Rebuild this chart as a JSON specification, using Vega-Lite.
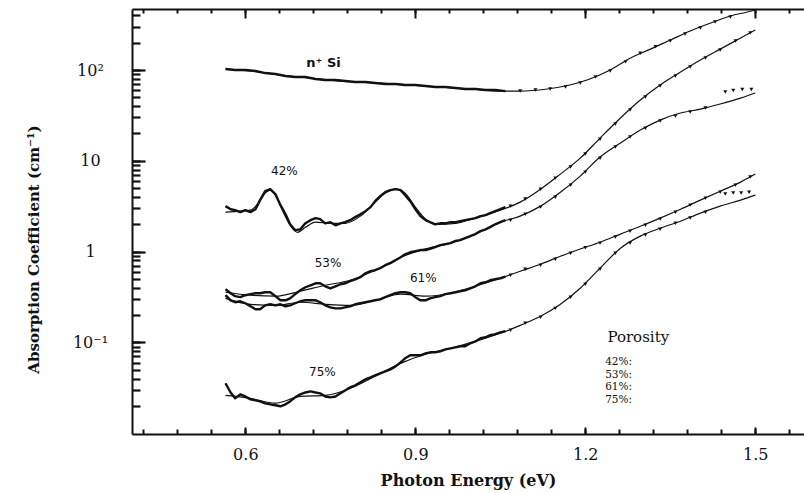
{
  "$schema": "https://vega.github.io/schema/vega-lite/v6.json",
  "width": 672,
  "height": 425,
  "autosize": {"type": "none"},
  "padding": {"left": 132, "top": 9, "right": 0, "bottom": 59},
  "background": "white",
  "view": {"stroke": null},
  "config": {
    "view": {"stroke": null},
    "axis": {"grid": false, "domainColor": "#111", "tickColor": "#111", "labelColor": "#111", "titleColor": "#111", "gridColor": "#111", "labelFont": "DejaVu Serif", "titleFont": "DejaVu Serif", "labelOverlap": false}
  },
  "datasets": {
    "measured": [
      {"sample":"n⁺ Si","eV":0.565,"alpha":102.5},{"sample":"n⁺ Si","eV":0.582,"alpha":100},{"sample":"n⁺ Si","eV":0.600,"alpha":100},{"sample":"n⁺ Si","eV":0.618,"alpha":97.5},{"sample":"n⁺ Si","eV":0.635,"alpha":92.6},{"sample":"n⁺ Si","eV":0.653,"alpha":90.3},{"sample":"n⁺ Si","eV":0.671,"alpha":85.9},{"sample":"n⁺ Si","eV":0.688,"alpha":83.8},{"sample":"n⁺ Si","eV":0.706,"alpha":83.8},{"sample":"n⁺ Si","eV":0.724,"alpha":79.6},{"sample":"n⁺ Si","eV":0.741,"alpha":77.6},{"sample":"n⁺ Si","eV":0.759,"alpha":77.6},{"sample":"n⁺ Si","eV":0.776,"alpha":75.6},{"sample":"n⁺ Si","eV":0.794,"alpha":73.7},{"sample":"n⁺ Si","eV":0.812,"alpha":73.7},{"sample":"n⁺ Si","eV":0.829,"alpha":71.9},{"sample":"n⁺ Si","eV":0.847,"alpha":70.1},{"sample":"n⁺ Si","eV":0.865,"alpha":70.1},{"sample":"n⁺ Si","eV":0.882,"alpha":68.4},{"sample":"n⁺ Si","eV":0.900,"alpha":68.4},{"sample":"n⁺ Si","eV":0.918,"alpha":66.7},{"sample":"n⁺ Si","eV":0.935,"alpha":65.0},{"sample":"n⁺ Si","eV":0.953,"alpha":65.0},{"sample":"n⁺ Si","eV":0.971,"alpha":63.4},{"sample":"n⁺ Si","eV":0.988,"alpha":61.8},{"sample":"n⁺ Si","eV":1.006,"alpha":61.8},{"sample":"n⁺ Si","eV":1.024,"alpha":60.2},{"sample":"n⁺ Si","eV":1.041,"alpha":60.2},{"sample":"n⁺ Si","eV":1.059,"alpha":58.6},
      {"sample":"n⁺ Si","eV":1.085,"alpha":58.6},{"sample":"n⁺ Si","eV":1.112,"alpha":60.2},{"sample":"n⁺ Si","eV":1.138,"alpha":61.8},{"sample":"n⁺ Si","eV":1.165,"alpha":65.0},{"sample":"n⁺ Si","eV":1.191,"alpha":71.9},{"sample":"n⁺ Si","eV":1.218,"alpha":83.8},{"sample":"n⁺ Si","eV":1.244,"alpha":97.5},{"sample":"n⁺ Si","eV":1.271,"alpha":123},{"sample":"n⁺ Si","eV":1.297,"alpha":153},{"sample":"n⁺ Si","eV":1.324,"alpha":180},{"sample":"n⁺ Si","eV":1.350,"alpha":209},{"sample":"n⁺ Si","eV":1.376,"alpha":249},{"sample":"n⁺ Si","eV":1.403,"alpha":290},{"sample":"n⁺ Si","eV":1.429,"alpha":338},{"sample":"n⁺ Si","eV":1.456,"alpha":384},

      {"sample":"42%","eV":0.565,"alpha":3.17},{"sample":"42%","eV":0.574,"alpha":2.93},{"sample":"42%","eV":0.582,"alpha":2.86},{"sample":"42%","eV":0.591,"alpha":2.72},{"sample":"42%","eV":0.600,"alpha":2.86},{"sample":"42%","eV":0.609,"alpha":2.72},{"sample":"42%","eV":0.618,"alpha":2.93},{"sample":"42%","eV":0.626,"alpha":3.69},{"sample":"42%","eV":0.635,"alpha":4.63},{"sample":"42%","eV":0.644,"alpha":4.87},{"sample":"42%","eV":0.653,"alpha":4.30},{"sample":"42%","eV":0.662,"alpha":3.25},{"sample":"42%","eV":0.671,"alpha":2.58},{"sample":"42%","eV":0.679,"alpha":2.00},{"sample":"42%","eV":0.688,"alpha":1.72},{"sample":"42%","eV":0.697,"alpha":1.76},{"sample":"42%","eV":0.706,"alpha":2.05},{"sample":"42%","eV":0.715,"alpha":2.22},{"sample":"42%","eV":0.724,"alpha":2.34},{"sample":"42%","eV":0.732,"alpha":2.28},{"sample":"42%","eV":0.741,"alpha":2.05},{"sample":"42%","eV":0.750,"alpha":2.11},{"sample":"42%","eV":0.759,"alpha":1.95},{"sample":"42%","eV":0.768,"alpha":2.05},{"sample":"42%","eV":0.776,"alpha":2.11},{"sample":"42%","eV":0.785,"alpha":2.22},{"sample":"42%","eV":0.794,"alpha":2.40},{"sample":"42%","eV":0.803,"alpha":2.58},{"sample":"42%","eV":0.812,"alpha":2.79},{"sample":"42%","eV":0.821,"alpha":3.09},{"sample":"42%","eV":0.829,"alpha":3.60},{"sample":"42%","eV":0.838,"alpha":4.08},{"sample":"42%","eV":0.847,"alpha":4.51},{"sample":"42%","eV":0.856,"alpha":4.75},{"sample":"42%","eV":0.865,"alpha":4.87},{"sample":"42%","eV":0.874,"alpha":4.75},{"sample":"42%","eV":0.882,"alpha":4.19},{"sample":"42%","eV":0.891,"alpha":3.60},{"sample":"42%","eV":0.900,"alpha":2.93},{"sample":"42%","eV":0.909,"alpha":2.46},{"sample":"42%","eV":0.918,"alpha":2.22},{"sample":"42%","eV":0.926,"alpha":2.11},{"sample":"42%","eV":0.935,"alpha":2.00},{"sample":"42%","eV":0.944,"alpha":2.05},{"sample":"42%","eV":0.953,"alpha":2.05},{"sample":"42%","eV":0.962,"alpha":2.11},{"sample":"42%","eV":0.971,"alpha":2.11},{"sample":"42%","eV":0.979,"alpha":2.16},{"sample":"42%","eV":0.988,"alpha":2.22},{"sample":"42%","eV":0.997,"alpha":2.28},{"sample":"42%","eV":1.006,"alpha":2.34},{"sample":"42%","eV":1.015,"alpha":2.46},{"sample":"42%","eV":1.024,"alpha":2.52},{"sample":"42%","eV":1.032,"alpha":2.65},{"sample":"42%","eV":1.041,"alpha":2.79},{"sample":"42%","eV":1.050,"alpha":2.93},{"sample":"42%","eV":1.059,"alpha":3.09},
      {"sample":"42%","eV":1.068,"alpha":3.17},{"sample":"42%","eV":1.094,"alpha":3.79},{"sample":"42%","eV":1.121,"alpha":4.87},{"sample":"42%","eV":1.147,"alpha":6.45},{"sample":"42%","eV":1.174,"alpha":8.53},{"sample":"42%","eV":1.200,"alpha":11.9},{"sample":"42%","eV":1.226,"alpha":17.3},{"sample":"42%","eV":1.253,"alpha":25.4},{"sample":"42%","eV":1.279,"alpha":36.2},{"sample":"42%","eV":1.306,"alpha":50.4},{"sample":"42%","eV":1.332,"alpha":66.7},{"sample":"42%","eV":1.359,"alpha":85.9},{"sample":"42%","eV":1.385,"alpha":108},{"sample":"42%","eV":1.412,"alpha":136},{"sample":"42%","eV":1.438,"alpha":166},{"sample":"42%","eV":1.465,"alpha":209},{"sample":"42%","eV":1.491,"alpha":256},

      {"sample":"53%","eV":0.565,"alpha":0.385},{"sample":"53%","eV":0.574,"alpha":0.348},{"sample":"53%","eV":0.582,"alpha":0.323},{"sample":"53%","eV":0.591,"alpha":0.315},{"sample":"53%","eV":0.600,"alpha":0.331},{"sample":"53%","eV":0.609,"alpha":0.340},{"sample":"53%","eV":0.618,"alpha":0.348},{"sample":"53%","eV":0.626,"alpha":0.348},{"sample":"53%","eV":0.635,"alpha":0.357},{"sample":"53%","eV":0.644,"alpha":0.357},{"sample":"53%","eV":0.653,"alpha":0.323},{"sample":"53%","eV":0.662,"alpha":0.291},{"sample":"53%","eV":0.671,"alpha":0.291},{"sample":"53%","eV":0.679,"alpha":0.306},{"sample":"53%","eV":0.688,"alpha":0.340},{"sample":"53%","eV":0.697,"alpha":0.375},{"sample":"53%","eV":0.706,"alpha":0.405},{"sample":"53%","eV":0.715,"alpha":0.426},{"sample":"53%","eV":0.724,"alpha":0.448},{"sample":"53%","eV":0.732,"alpha":0.448},{"sample":"53%","eV":0.741,"alpha":0.415},{"sample":"53%","eV":0.750,"alpha":0.394},{"sample":"53%","eV":0.759,"alpha":0.415},{"sample":"53%","eV":0.768,"alpha":0.437},{"sample":"53%","eV":0.776,"alpha":0.448},{"sample":"53%","eV":0.785,"alpha":0.472},{"sample":"53%","eV":0.794,"alpha":0.496},{"sample":"53%","eV":0.803,"alpha":0.522},{"sample":"53%","eV":0.812,"alpha":0.577},{"sample":"53%","eV":0.821,"alpha":0.608},{"sample":"53%","eV":0.829,"alpha":0.624},{"sample":"53%","eV":0.838,"alpha":0.656},{"sample":"53%","eV":0.847,"alpha":0.708},{"sample":"53%","eV":0.856,"alpha":0.745},{"sample":"53%","eV":0.865,"alpha":0.804},{"sample":"53%","eV":0.874,"alpha":0.867},{"sample":"53%","eV":0.882,"alpha":0.935},{"sample":"53%","eV":0.891,"alpha":0.984},{"sample":"53%","eV":0.900,"alpha":1.01},{"sample":"53%","eV":0.909,"alpha":1.04},{"sample":"53%","eV":0.918,"alpha":1.04},{"sample":"53%","eV":0.926,"alpha":1.07},{"sample":"53%","eV":0.935,"alpha":1.12},{"sample":"53%","eV":0.944,"alpha":1.18},{"sample":"53%","eV":0.953,"alpha":1.21},{"sample":"53%","eV":0.962,"alpha":1.24},{"sample":"53%","eV":0.971,"alpha":1.31},{"sample":"53%","eV":0.979,"alpha":1.34},{"sample":"53%","eV":0.988,"alpha":1.41},{"sample":"53%","eV":0.997,"alpha":1.48},{"sample":"53%","eV":1.006,"alpha":1.56},{"sample":"53%","eV":1.015,"alpha":1.68},{"sample":"53%","eV":1.024,"alpha":1.76},{"sample":"53%","eV":1.032,"alpha":1.86},{"sample":"53%","eV":1.041,"alpha":2.00},{"sample":"53%","eV":1.050,"alpha":2.11},{"sample":"53%","eV":1.059,"alpha":2.22},
      {"sample":"53%","eV":1.068,"alpha":2.22},{"sample":"53%","eV":1.094,"alpha":2.58},{"sample":"53%","eV":1.121,"alpha":3.09},{"sample":"53%","eV":1.147,"alpha":3.98},{"sample":"53%","eV":1.174,"alpha":5.40},{"sample":"53%","eV":1.200,"alpha":7.51},{"sample":"53%","eV":1.226,"alpha":10.7},{"sample":"53%","eV":1.253,"alpha":14.2},{"sample":"53%","eV":1.279,"alpha":18.3},{"sample":"53%","eV":1.306,"alpha":22.9},{"sample":"53%","eV":1.332,"alpha":27.4},{"sample":"53%","eV":1.359,"alpha":31.1},{"sample":"53%","eV":1.385,"alpha":34.4},{"sample":"53%","eV":1.412,"alpha":38.1},{"sample":"53%","eV":1.447,"alpha":57.2},{"sample":"53%","eV":1.461,"alpha":59.4},{"sample":"53%","eV":1.477,"alpha":61.0},{"sample":"53%","eV":1.493,"alpha":61.0},

      {"sample":"61%","eV":0.565,"alpha":0.331},{"sample":"61%","eV":0.574,"alpha":0.291},{"sample":"61%","eV":0.582,"alpha":0.277},{"sample":"61%","eV":0.591,"alpha":0.284},{"sample":"61%","eV":0.600,"alpha":0.270},{"sample":"61%","eV":0.609,"alpha":0.250},{"sample":"61%","eV":0.618,"alpha":0.232},{"sample":"61%","eV":0.626,"alpha":0.232},{"sample":"61%","eV":0.635,"alpha":0.256},{"sample":"61%","eV":0.644,"alpha":0.263},{"sample":"61%","eV":0.653,"alpha":0.256},{"sample":"61%","eV":0.662,"alpha":0.263},{"sample":"61%","eV":0.671,"alpha":0.250},{"sample":"61%","eV":0.679,"alpha":0.256},{"sample":"61%","eV":0.688,"alpha":0.270},{"sample":"61%","eV":0.697,"alpha":0.284},{"sample":"61%","eV":0.706,"alpha":0.291},{"sample":"61%","eV":0.715,"alpha":0.291},{"sample":"61%","eV":0.724,"alpha":0.291},{"sample":"61%","eV":0.732,"alpha":0.277},{"sample":"61%","eV":0.741,"alpha":0.256},{"sample":"61%","eV":0.750,"alpha":0.243},{"sample":"61%","eV":0.759,"alpha":0.237},{"sample":"61%","eV":0.768,"alpha":0.237},{"sample":"61%","eV":0.776,"alpha":0.243},{"sample":"61%","eV":0.785,"alpha":0.250},{"sample":"61%","eV":0.794,"alpha":0.263},{"sample":"61%","eV":0.803,"alpha":0.270},{"sample":"61%","eV":0.812,"alpha":0.277},{"sample":"61%","eV":0.821,"alpha":0.284},{"sample":"61%","eV":0.829,"alpha":0.291},{"sample":"61%","eV":0.838,"alpha":0.298},{"sample":"61%","eV":0.847,"alpha":0.315},{"sample":"61%","eV":0.856,"alpha":0.331},{"sample":"61%","eV":0.865,"alpha":0.348},{"sample":"61%","eV":0.874,"alpha":0.357},{"sample":"61%","eV":0.882,"alpha":0.357},{"sample":"61%","eV":0.891,"alpha":0.348},{"sample":"61%","eV":0.900,"alpha":0.315},{"sample":"61%","eV":0.909,"alpha":0.291},{"sample":"61%","eV":0.918,"alpha":0.291},{"sample":"61%","eV":0.926,"alpha":0.306},{"sample":"61%","eV":0.935,"alpha":0.315},{"sample":"61%","eV":0.944,"alpha":0.323},{"sample":"61%","eV":0.953,"alpha":0.340},{"sample":"61%","eV":0.962,"alpha":0.348},{"sample":"61%","eV":0.971,"alpha":0.357},{"sample":"61%","eV":0.979,"alpha":0.366},{"sample":"61%","eV":0.988,"alpha":0.375},{"sample":"61%","eV":0.997,"alpha":0.394},{"sample":"61%","eV":1.006,"alpha":0.415},{"sample":"61%","eV":1.015,"alpha":0.448},{"sample":"61%","eV":1.024,"alpha":0.460},{"sample":"61%","eV":1.032,"alpha":0.484},{"sample":"61%","eV":1.041,"alpha":0.496},{"sample":"61%","eV":1.050,"alpha":0.509},{"sample":"61%","eV":1.059,"alpha":0.530},
      {"sample":"61%","eV":1.068,"alpha":0.549},{"sample":"61%","eV":1.094,"alpha":0.640},{"sample":"61%","eV":1.121,"alpha":0.708},{"sample":"61%","eV":1.147,"alpha":0.825},{"sample":"61%","eV":1.174,"alpha":0.960},{"sample":"61%","eV":1.200,"alpha":1.10},{"sample":"61%","eV":1.226,"alpha":1.24},{"sample":"61%","eV":1.253,"alpha":1.45},{"sample":"61%","eV":1.279,"alpha":1.68},{"sample":"61%","eV":1.306,"alpha":1.95},{"sample":"61%","eV":1.332,"alpha":2.28},{"sample":"61%","eV":1.359,"alpha":2.72},{"sample":"61%","eV":1.385,"alpha":3.25},{"sample":"61%","eV":1.412,"alpha":3.88},{"sample":"61%","eV":1.438,"alpha":4.51},{"sample":"61%","eV":1.465,"alpha":5.40},{"sample":"61%","eV":1.491,"alpha":6.62},

      {"sample":"75%","eV":0.565,"alpha":0.0355},{"sample":"75%","eV":0.574,"alpha":0.0281},{"sample":"75%","eV":0.582,"alpha":0.0242},{"sample":"75%","eV":0.591,"alpha":0.0268},{"sample":"75%","eV":0.600,"alpha":0.0254},{"sample":"75%","eV":0.609,"alpha":0.0236},{"sample":"75%","eV":0.618,"alpha":0.0230},{"sample":"75%","eV":0.626,"alpha":0.0224},{"sample":"75%","eV":0.635,"alpha":0.0213},{"sample":"75%","eV":0.644,"alpha":0.0208},{"sample":"75%","eV":0.653,"alpha":0.0203},{"sample":"75%","eV":0.662,"alpha":0.0198},{"sample":"75%","eV":0.671,"alpha":0.0208},{"sample":"75%","eV":0.679,"alpha":0.0224},{"sample":"75%","eV":0.688,"alpha":0.0248},{"sample":"75%","eV":0.697,"alpha":0.0268},{"sample":"75%","eV":0.706,"alpha":0.0281},{"sample":"75%","eV":0.715,"alpha":0.0289},{"sample":"75%","eV":0.724,"alpha":0.0281},{"sample":"75%","eV":0.732,"alpha":0.0275},{"sample":"75%","eV":0.741,"alpha":0.0254},{"sample":"75%","eV":0.750,"alpha":0.0248},{"sample":"75%","eV":0.759,"alpha":0.0254},{"sample":"75%","eV":0.768,"alpha":0.0275},{"sample":"75%","eV":0.776,"alpha":0.0296},{"sample":"75%","eV":0.785,"alpha":0.0320},{"sample":"75%","eV":0.794,"alpha":0.0337},{"sample":"75%","eV":0.803,"alpha":0.0363},{"sample":"75%","eV":0.812,"alpha":0.0392},{"sample":"75%","eV":0.821,"alpha":0.0412},{"sample":"75%","eV":0.829,"alpha":0.0434},{"sample":"75%","eV":0.838,"alpha":0.0456},{"sample":"75%","eV":0.847,"alpha":0.0480},{"sample":"75%","eV":0.856,"alpha":0.0505},{"sample":"75%","eV":0.865,"alpha":0.0545},{"sample":"75%","eV":0.874,"alpha":0.0603},{"sample":"75%","eV":0.882,"alpha":0.0668},{"sample":"75%","eV":0.891,"alpha":0.0721},{"sample":"75%","eV":0.900,"alpha":0.0721},{"sample":"75%","eV":0.909,"alpha":0.0721},{"sample":"75%","eV":0.918,"alpha":0.0758},{"sample":"75%","eV":0.926,"alpha":0.0778},{"sample":"75%","eV":0.935,"alpha":0.0778},{"sample":"75%","eV":0.944,"alpha":0.0798},{"sample":"75%","eV":0.953,"alpha":0.0839},{"sample":"75%","eV":0.962,"alpha":0.0861},{"sample":"75%","eV":0.971,"alpha":0.0883},{"sample":"75%","eV":0.979,"alpha":0.0906},{"sample":"75%","eV":0.988,"alpha":0.0906},{"sample":"75%","eV":0.997,"alpha":0.0978},{"sample":"75%","eV":1.006,"alpha":0.1025},{"sample":"75%","eV":1.015,"alpha":0.111},{"sample":"75%","eV":1.024,"alpha":0.114},{"sample":"75%","eV":1.032,"alpha":0.120},{"sample":"75%","eV":1.041,"alpha":0.123},{"sample":"75%","eV":1.050,"alpha":0.129},{"sample":"75%","eV":1.059,"alpha":0.133},
      {"sample":"75%","eV":1.068,"alpha":0.136},{"sample":"75%","eV":1.094,"alpha":0.163},{"sample":"75%","eV":1.121,"alpha":0.189},{"sample":"75%","eV":1.147,"alpha":0.237},{"sample":"75%","eV":1.174,"alpha":0.315},{"sample":"75%","eV":1.200,"alpha":0.437},{"sample":"75%","eV":1.226,"alpha":0.640},{"sample":"75%","eV":1.253,"alpha":0.960},{"sample":"75%","eV":1.279,"alpha":1.24},{"sample":"75%","eV":1.306,"alpha":1.52},{"sample":"75%","eV":1.332,"alpha":1.76},{"sample":"75%","eV":1.359,"alpha":2.05},{"sample":"75%","eV":1.385,"alpha":2.34},{"sample":"75%","eV":1.412,"alpha":2.72},{"sample":"75%","eV":1.447,"alpha":4.30},{"sample":"75%","eV":1.461,"alpha":4.41},{"sample":"75%","eV":1.475,"alpha":4.41},{"sample":"75%","eV":1.489,"alpha":4.51}
    ],
    "fit": [
      {"sample":"n⁺ Si","eV":0.565,"alpha":102.5},{"sample":"n⁺ Si","eV":0.609,"alpha":97.5},{"sample":"n⁺ Si","eV":0.662,"alpha":88.1},{"sample":"n⁺ Si","eV":0.715,"alpha":81.6},{"sample":"n⁺ Si","eV":0.768,"alpha":75.6},{"sample":"n⁺ Si","eV":0.838,"alpha":71.9},{"sample":"n⁺ Si","eV":0.891,"alpha":68.4},{"sample":"n⁺ Si","eV":0.944,"alpha":65.0},{"sample":"n⁺ Si","eV":0.997,"alpha":61.8},{"sample":"n⁺ Si","eV":1.050,"alpha":58.6},{"sample":"n⁺ Si","eV":1.085,"alpha":58.6},{"sample":"n⁺ Si","eV":1.133,"alpha":61.8},{"sample":"n⁺ Si","eV":1.165,"alpha":66.7},{"sample":"n⁺ Si","eV":1.203,"alpha":77.6},{"sample":"n⁺ Si","eV":1.244,"alpha":100},{"sample":"n⁺ Si","eV":1.279,"alpha":135},{"sample":"n⁺ Si","eV":1.315,"alpha":170},{"sample":"n⁺ Si","eV":1.350,"alpha":214},{"sample":"n⁺ Si","eV":1.385,"alpha":269},{"sample":"n⁺ Si","eV":1.426,"alpha":338},{"sample":"n⁺ Si","eV":1.456,"alpha":394},{"sample":"n⁺ Si","eV":1.486,"alpha":436},{"sample":"n⁺ Si","eV":1.500,"alpha":459},

      {"sample":"42%","eV":0.565,"alpha":2.72},{"sample":"42%","eV":0.591,"alpha":2.79},{"sample":"42%","eV":0.609,"alpha":2.86},{"sample":"42%","eV":0.623,"alpha":3.42},{"sample":"42%","eV":0.635,"alpha":4.41},{"sample":"42%","eV":0.644,"alpha":4.75},{"sample":"42%","eV":0.653,"alpha":4.19},{"sample":"42%","eV":0.667,"alpha":2.72},{"sample":"42%","eV":0.679,"alpha":1.95},{"sample":"42%","eV":0.692,"alpha":1.63},{"sample":"42%","eV":0.706,"alpha":1.85},{"sample":"42%","eV":0.724,"alpha":2.11},{"sample":"42%","eV":0.750,"alpha":2.05},{"sample":"42%","eV":0.776,"alpha":2.05},{"sample":"42%","eV":0.803,"alpha":2.46},{"sample":"42%","eV":0.824,"alpha":3.25},{"sample":"42%","eV":0.847,"alpha":4.41},{"sample":"42%","eV":0.865,"alpha":4.87},{"sample":"42%","eV":0.882,"alpha":4.41},{"sample":"42%","eV":0.900,"alpha":3.09},{"sample":"42%","eV":0.918,"alpha":2.28},{"sample":"42%","eV":0.939,"alpha":2.00},{"sample":"42%","eV":0.971,"alpha":2.05},{"sample":"42%","eV":1.006,"alpha":2.34},{"sample":"42%","eV":1.050,"alpha":2.86},{"sample":"42%","eV":1.085,"alpha":3.51},{"sample":"42%","eV":1.121,"alpha":4.87},{"sample":"42%","eV":1.156,"alpha":7.14},{"sample":"42%","eV":1.191,"alpha":10.7},{"sample":"42%","eV":1.226,"alpha":17.8},{"sample":"42%","eV":1.262,"alpha":29.6},{"sample":"42%","eV":1.297,"alpha":46.7},{"sample":"42%","eV":1.332,"alpha":68.4},{"sample":"42%","eV":1.368,"alpha":95.1},{"sample":"42%","eV":1.403,"alpha":129},{"sample":"42%","eV":1.438,"alpha":170},{"sample":"42%","eV":1.474,"alpha":225},{"sample":"42%","eV":1.500,"alpha":276},

      {"sample":"53%","eV":0.565,"alpha":0.357},{"sample":"53%","eV":0.609,"alpha":0.331},{"sample":"53%","eV":0.653,"alpha":0.323},{"sample":"53%","eV":0.697,"alpha":0.366},{"sample":"53%","eV":0.741,"alpha":0.426},{"sample":"53%","eV":0.785,"alpha":0.484},{"sample":"53%","eV":0.829,"alpha":0.624},{"sample":"53%","eV":0.874,"alpha":0.867},{"sample":"53%","eV":0.918,"alpha":1.07},{"sample":"53%","eV":0.962,"alpha":1.24},{"sample":"53%","eV":1.006,"alpha":1.56},{"sample":"53%","eV":1.050,"alpha":2.11},{"sample":"53%","eV":1.085,"alpha":2.46},{"sample":"53%","eV":1.121,"alpha":3.17},{"sample":"53%","eV":1.156,"alpha":4.51},{"sample":"53%","eV":1.191,"alpha":6.79},{"sample":"53%","eV":1.226,"alpha":11.0},{"sample":"53%","eV":1.262,"alpha":15.7},{"sample":"53%","eV":1.297,"alpha":21.8},{"sample":"53%","eV":1.332,"alpha":28.1},{"sample":"53%","eV":1.368,"alpha":33.6},{"sample":"53%","eV":1.403,"alpha":37.1},{"sample":"53%","eV":1.438,"alpha":42.2},{"sample":"53%","eV":1.474,"alpha":49.1},{"sample":"53%","eV":1.500,"alpha":55.8},

      {"sample":"61%","eV":0.565,"alpha":0.306},{"sample":"61%","eV":0.609,"alpha":0.263},{"sample":"61%","eV":0.653,"alpha":0.256},{"sample":"61%","eV":0.697,"alpha":0.277},{"sample":"61%","eV":0.741,"alpha":0.263},{"sample":"61%","eV":0.785,"alpha":0.256},{"sample":"61%","eV":0.829,"alpha":0.291},{"sample":"61%","eV":0.874,"alpha":0.340},{"sample":"61%","eV":0.918,"alpha":0.323},{"sample":"61%","eV":0.962,"alpha":0.348},{"sample":"61%","eV":1.006,"alpha":0.415},{"sample":"61%","eV":1.050,"alpha":0.509},{"sample":"61%","eV":1.085,"alpha":0.608},{"sample":"61%","eV":1.121,"alpha":0.726},{"sample":"61%","eV":1.156,"alpha":0.889},{"sample":"61%","eV":1.191,"alpha":1.07},{"sample":"61%","eV":1.226,"alpha":1.27},{"sample":"61%","eV":1.262,"alpha":1.56},{"sample":"61%","eV":1.297,"alpha":1.90},{"sample":"61%","eV":1.332,"alpha":2.34},{"sample":"61%","eV":1.368,"alpha":2.93},{"sample":"61%","eV":1.403,"alpha":3.69},{"sample":"61%","eV":1.438,"alpha":4.63},{"sample":"61%","eV":1.474,"alpha":5.83},{"sample":"61%","eV":1.500,"alpha":7.14},

      {"sample":"75%","eV":0.565,"alpha":0.0261},{"sample":"75%","eV":0.609,"alpha":0.0242},{"sample":"75%","eV":0.653,"alpha":0.0214},{"sample":"75%","eV":0.697,"alpha":0.0254},{"sample":"75%","eV":0.741,"alpha":0.0261},{"sample":"75%","eV":0.785,"alpha":0.0311},{"sample":"75%","eV":0.829,"alpha":0.0423},{"sample":"75%","eV":0.874,"alpha":0.0588},{"sample":"75%","eV":0.918,"alpha":0.0740},{"sample":"75%","eV":0.962,"alpha":0.0861},{"sample":"75%","eV":1.006,"alpha":0.1025},{"sample":"75%","eV":1.050,"alpha":0.126},{"sample":"75%","eV":1.085,"alpha":0.154},{"sample":"75%","eV":1.121,"alpha":0.194},{"sample":"75%","eV":1.156,"alpha":0.263},{"sample":"75%","eV":1.191,"alpha":0.395},{"sample":"75%","eV":1.226,"alpha":0.657},{"sample":"75%","eV":1.262,"alpha":1.09},{"sample":"75%","eV":1.297,"alpha":1.48},{"sample":"75%","eV":1.332,"alpha":1.81},{"sample":"75%","eV":1.368,"alpha":2.16},{"sample":"75%","eV":1.403,"alpha":2.65},{"sample":"75%","eV":1.438,"alpha":3.17},{"sample":"75%","eV":1.474,"alpha":3.69},{"sample":"75%","eV":1.500,"alpha":4.19}
    ]
  },
  "layer": [
    {
      "data": {"name": "fit"},
      "mark": {"type": "line", "color": "#111", "strokeWidth": 1.2, "interpolate": "monotone", "clip": true},
      "encoding": {
        "x": {"field": "eV", "type": "quantitative", "scale": {"domain": [0.4, 1.5859], "nice": false, "zero": false},
              "axis": {"orient": "bottom",
                       "values": [0.42, 0.48, 0.54, 0.6, 0.66, 0.72, 0.78, 0.84, 0.9, 0.96, 1.02, 1.08, 1.14, 1.2, 1.26, 1.32, 1.38, 1.44, 1.5, 1.56],
                       "labelExpr": "indexof([0.6, 0.9, 1.2, 1.5], datum.value) >= 0 ? format(datum.value, '.1f') : ''",
                       "tickSize": -5, "tickWidth": 2, "tickColor": "#111",
                       "grid": true, "gridDash": [9, 2000], "gridWidth": 2,
                       "gridOpacity": {"condition": {"test": "indexof([0.6, 0.9, 1.2, 1.5], datum.value) >= 0", "value": 1}, "value": 0},
                       "domainWidth": 2, "labelPadding": 17, "labelFontSize": 16, "labelFlush": false,
                       "title": "Photon Energy (eV)", "titleFontSize": 16, "titleFontWeight": "bold", "titleY": 38, "titleBaseline": "top"}},
        "y": {"field": "alpha", "type": "quantitative", "scale": {"type": "log", "domain": [0.0098, 470], "nice": false},
              "axis": {"orient": "left",
                       "values": [0.02, 0.03, 0.04, 0.05, 0.06, 0.07, 0.08, 0.09, 0.1, 0.2, 0.3, 0.4, 0.5, 0.6, 0.7, 0.8, 0.9, 1, 2, 3, 4, 5, 6, 7, 8, 9, 10, 20, 30, 40, 50, 60, 70, 80, 90, 100, 200, 300, 400],
                       "labelExpr": "datum.value == 100 ? '10²' : datum.value == 10 ? '10' : datum.value == 1 ? '1' : datum.value == 0.1 ? '10⁻¹' : ''",
                       "tickSize": -8, "tickWidth": 2.2, "tickColor": "#111",
                       "grid": true, "gridDash": [13, 2000], "gridWidth": 2.2,
                       "gridOpacity": {"condition": {"test": "indexof([0.1, 1, 10, 100], datum.value) >= 0", "value": 1}, "value": 0},
                       "domainWidth": 2, "labelPadding": 50, "labelAlign": "center", "labelFontSize": 16, "labelFlush": false,
                       "title": "Absorption Coefficient (cm⁻¹)", "titleFontSize": 15, "titleFontWeight": "bold", "titleX": -99, "titleY": 240, "titleBaseline": "middle"}},
        "detail": {"field": "sample"}
      }
    },
    {
      "data": {"name": "measured"},
      "transform": [{"filter": "datum.eV <= 1.06"}],
      "mark": {"type": "line", "color": "#111", "strokeWidth": 2.4, "strokeJoin": "round", "clip": true},
      "encoding": {
        "x": {"field": "eV", "type": "quantitative", "scale": {"domain": [0.4, 1.5859], "nice": false, "zero": false},
              "axis": {"orient": "top",
                       "values": [0.42, 0.48, 0.54, 0.6, 0.66, 0.72, 0.78, 0.84, 0.9, 0.96, 1.02, 1.08, 1.14, 1.2, 1.26, 1.32, 1.38, 1.44, 1.5, 1.56],
                       "labels": false, "tickSize": -4, "tickWidth": 2, "tickColor": "#111",
                       "grid": true, "gridDash": [7, 2000], "gridWidth": 2,
                       "gridOpacity": {"condition": {"test": "indexof([0.6, 0.9, 1.2, 1.5], datum.value) >= 0", "value": 1}, "value": 0},
                       "domainWidth": 2, "title": null}},
        "y": {"field": "alpha", "type": "quantitative", "scale": {"type": "log", "domain": [0.0098, 470], "nice": false}, "axis": null},
        "detail": {"field": "sample"}
      }
    },
    {
      "data": {"name": "measured"},
      "transform": [{"filter": "datum.eV > 1.06"}],
      "mark": {"type": "point", "shape": "triangle-down", "filled": true, "size": 16, "color": "#111", "opacity": 1, "clip": true},
      "encoding": {
        "x": {"field": "eV", "type": "quantitative", "scale": {"domain": [0.4, 1.5859], "nice": false, "zero": false}, "axis": null},
        "y": {"field": "alpha", "type": "quantitative", "scale": {"type": "log", "domain": [0.0098, 470], "nice": false}, "axis": null}
      }
    },
    {
      "data": {"values": [
        {"label": "42%", "eV": 0.669, "alpha": 7.7},
        {"label": "53%", "eV": 0.746, "alpha": 0.745},
        {"label": "61%", "eV": 0.914, "alpha": 0.509},
        {"label": "75%", "eV": 0.736, "alpha": 0.0468}
      ]},
      "mark": {"type": "text", "font": "DejaVu Sans", "fontSize": 12, "color": "#111", "align": "center", "baseline": "middle"},
      "encoding": {
        "x": {"field": "eV", "type": "quantitative", "axis": null},
        "y": {"field": "alpha", "type": "quantitative", "axis": null},
        "text": {"field": "label"}
      }
    },
    {
      "data": {"values": [{"label": "n⁺ Si", "eV": 0.738, "alpha": 119}]},
      "mark": {"type": "text", "font": "DejaVu Sans", "fontSize": 13, "fontWeight": "bold", "color": "#111", "align": "center", "baseline": "middle"},
      "encoding": {
        "x": {"field": "eV", "type": "quantitative", "axis": null},
        "y": {"field": "alpha", "type": "quantitative", "axis": null},
        "text": {"field": "label"}
      }
    },
    {
      "data": {"values": [{"label": "Porosity", "eV": 1.239, "alpha": 0.114}]},
      "mark": {"type": "text", "font": "DejaVu Serif", "fontSize": 15, "color": "#111", "align": "left", "baseline": "middle"},
      "encoding": {
        "x": {"field": "eV", "type": "quantitative", "axis": null},
        "y": {"field": "alpha", "type": "quantitative", "axis": null},
        "text": {"field": "label"}
      }
    },
    {
      "data": {"values": [
        {"label": "42%:", "eV": 1.235, "alpha": 0.0604},
        {"label": "53%:", "eV": 1.235, "alpha": 0.0434},
        {"label": "61%:", "eV": 1.235, "alpha": 0.0320},
        {"label": "75%:", "eV": 1.235, "alpha": 0.0230}
      ]},
      "mark": {"type": "text", "font": "DejaVu Serif", "fontSize": 10.5, "color": "#111", "align": "left", "baseline": "middle"},
      "encoding": {
        "x": {"field": "eV", "type": "quantitative", "axis": null},
        "y": {"field": "alpha", "type": "quantitative", "axis": null},
        "text": {"field": "label"}
      }
    }
  ],
  "resolve": {"axis": {"x": "independent", "y": "independent"}}
}
